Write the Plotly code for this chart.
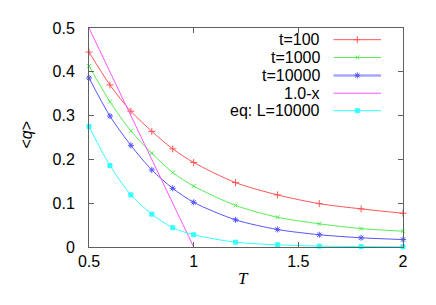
import plotly.graph_objects as go

# ---- data ----
T = [0.5, 0.6, 0.7, 0.8, 0.9, 1.0, 1.2, 1.4, 1.6, 1.8, 2.0]
q_t100 = [0.445, 0.370, 0.310, 0.264, 0.224, 0.193, 0.147, 0.119, 0.099, 0.087, 0.077]
q_t1000 = [0.413, 0.332, 0.265, 0.214, 0.170, 0.139, 0.095, 0.068, 0.053, 0.042, 0.036]
q_t10000 = [0.386, 0.299, 0.232, 0.176, 0.134, 0.102, 0.062, 0.040, 0.028, 0.021, 0.017]
q_eq = [0.275, 0.186, 0.119, 0.075, 0.044, 0.028, 0.011, 0.005, 0.002, 0.001, 0.0005]
line_x = [0.5, 1.0]
line_y = [1.0 - v for v in line_x]

labels = ["t=100", "t=1000", "t=10000", "1.0-x", "eq: L=10000"]
xticks = [0.5, 1, 1.5, 2]
xtick_text = ["0.5", "1", "1.5", "2"]
yticks = [0, 0.1, 0.2, 0.3, 0.4, 0.5]
ytick_text = ["0", "0.1", "0.2", "0.3", "0.4", "0.5"]

# ---- styles ----
colors = ["#ff5555", "#55ee55", "#5555ff", "#ff55ff", "#33ffff"]
symbols = ["cross-thin-open", "x-thin-open", "asterisk-open", None, "square"]
msizes = [5, 4, 5, 0, 4]
FONT = "Liberation Sans, Arial, sans-serif"

# page has an 8px body margin; plot area in page pixels: x 89..403, y 22..247
OFF = 8
PL, PR, PT, PB = 89, 403, 22, 247


def px(x):
    return (x - PL) / (PR - PL)


def py(y):
    return (PB - y) / (PB - PT)


fig = go.Figure()
series = [q_t100, q_t1000, q_t10000, None, q_eq]
for i, ys in enumerate(series):
    if ys is None:
        fig.add_trace(go.Scatter(x=line_x, y=line_y, mode="lines",
                                 line=dict(color=colors[i], width=1), showlegend=False))
        continue
    fig.add_trace(go.Scatter(
        x=T, y=ys, mode="lines+markers",
        line=dict(color=colors[i], width=1, shape="spline", smoothing=0.8),
        marker=dict(symbol=symbols[i], size=msizes[i], color=colors[i],
                    line=dict(color=colors[i], width=1)),
        showlegend=False, cliponaxis=False))

# ---- gnuplot-style key (text left of sample) on a pixel overlay axis ----
key_rows = [34, 52.3, 70.7, 89, 107]
key_line = (333.5, 381)
key_mark = 357.3
key_text_right = 322
for i, lab in enumerate(labels):
    yrow = key_rows[i]
    width = 2.5 if i == 2 else 1
    col = "rgba(80,80,255,0.5)" if i == 2 else colors[i]
    fig.add_trace(go.Scatter(x=list(key_line), y=[yrow, yrow], mode="lines",
                             line=dict(color=col, width=width),
                             xaxis="x2", yaxis="y2", showlegend=False, hoverinfo="skip"))
    if symbols[i]:
        fig.add_trace(go.Scatter(x=[key_mark], y=[yrow], mode="markers",
                                 marker=dict(symbol=symbols[i], size=msizes[i], color=colors[i],
                                             line=dict(color=colors[i], width=1)),
                                 xaxis="x2", yaxis="y2", showlegend=False, hoverinfo="skip"))
    fig.add_annotation(x=px(key_text_right), y=py(yrow), xref="paper", yref="paper", text=lab,
                       showarrow=False, xanchor="right", yanchor="middle",
                       font=dict(family=FONT, size=16, color="black"))

axis_common = dict(showline=True, linecolor="#606060", linewidth=1, mirror="ticks",
                   ticks="inside", ticklen=5, tickcolor="#606060", showgrid=False,
                   zeroline=False, tickfont=dict(family=FONT, size=16, color="black"))

fig.update_layout(
    width=436 - OFF, height=305 - OFF,
    margin=dict(l=PL - OFF, r=436 - PR, t=PT - OFF, b=305 - PB),
    paper_bgcolor="white", plot_bgcolor="white",
    xaxis=dict(range=[0.5, 2], tickvals=xticks, ticktext=xtick_text,
               ticklabelstandoff=0, **axis_common),
    yaxis=dict(range=[0, 0.5], tickvals=yticks, ticktext=ytick_text,
               ticklabelstandoff=10, **axis_common),
    xaxis2=dict(overlaying="x", range=[PL, PR], visible=False, fixedrange=True),
    yaxis2=dict(overlaying="y", range=[PB, PT], visible=False, fixedrange=True),
    showlegend=False,
)

fig.add_annotation(x=px(243), y=py(291), xref="paper", yref="paper", text="<i>T</i>",
                   showarrow=False,
                   font=dict(family="Liberation Serif, Times New Roman, serif", size=17, color="black"))
fig.add_annotation(x=px(16), y=py(132), xref="paper", yref="paper", text="&lt;<i>q</i>&gt;",
                   showarrow=False, textangle=-90,
                   font=dict(family=FONT, size=16, color="black"))

fig.write_html("out.html")
